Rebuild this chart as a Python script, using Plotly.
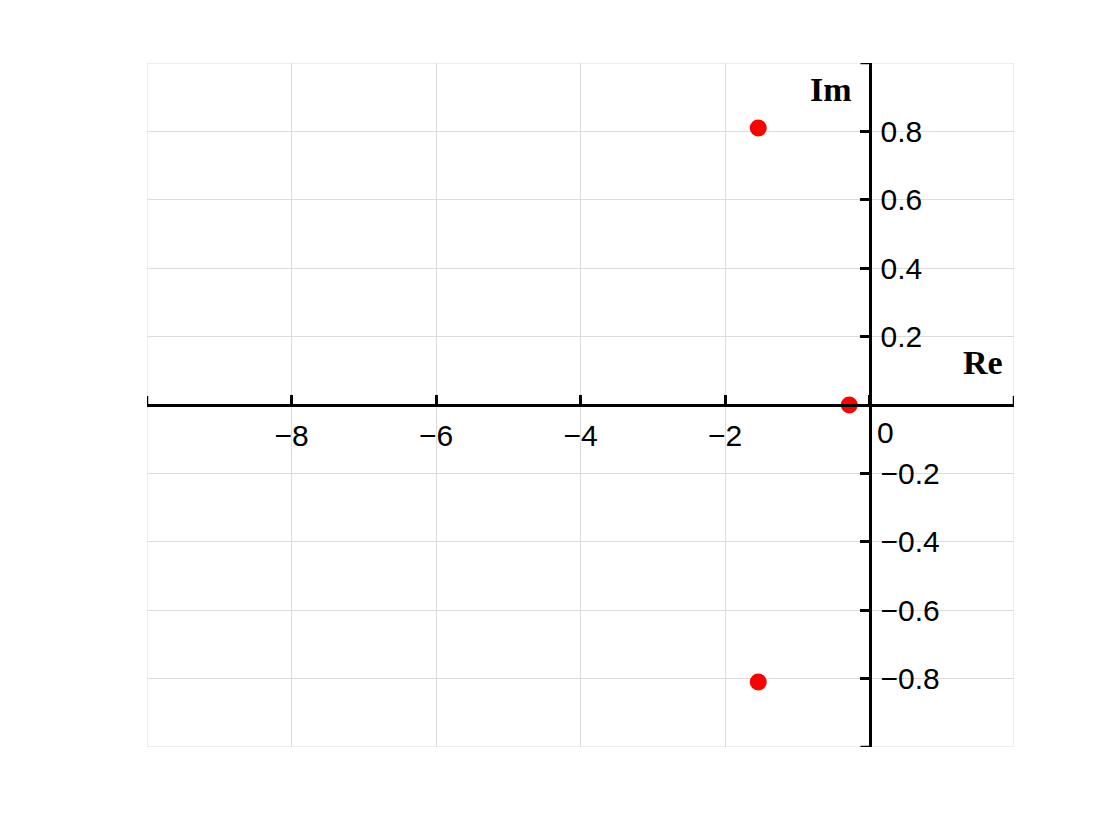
import plotly.graph_objects as go

# Data: poles in the complex plane
pole_re = [-1.54, -1.54, -0.28]
pole_im = [0.81, -0.81, 0.0]

x_ticks = [-10, -8, -6, -4, -2, 0, 2]
x_ticktext = ["", "−8", "−6", "−4", "−2", "", ""]
y_ticks = [-1.0, -0.8, -0.6, -0.4, -0.2, 0.0, 0.2, 0.4, 0.6, 0.8, 1.0]
y_ticktext = ["", "−0.8", "−0.6", "−0.4", "−0.2", "", "0.2", "0.4", "0.6", "0.8", ""]

x_min, x_max = x_ticks[0], x_ticks[-1]
y_min, y_max = y_ticks[0], y_ticks[-1]

fig = go.Figure()
fig.add_trace(go.Scatter(
    x=pole_re, y=pole_im, mode="markers",
    marker=dict(color="#ff0000", size=17, line=dict(width=0)),
    showlegend=False, hoverinfo="skip",
))

tick_font = dict(family="Liberation Sans, Arial, sans-serif", size=30, color="black")
label_font = dict(family="Liberation Serif, DejaVu Serif, serif", size=34, color="black")
grid_col = "#dcdcdc"

shapes = [
    # border grid lines at the range edges
    dict(type="rect", xref="x", yref="y", x0=x_min, x1=x_max, y0=y_min, y1=y_max,
         line=dict(color=grid_col, width=1), layer="below"),
]
# edge ticks on the x axis (pointing up)
for xv in (x_min, x_max):
    shapes.append(dict(type="line", xref="x", yref="y", ysizemode="pixel", yanchor=0,
                       x0=xv, x1=xv, y0=0, y1=9, line=dict(color="black", width=2.5)))
# edge ticks on the y axis (pointing left)
for yv in (y_min, y_max):
    shapes.append(dict(type="line", xref="x", yref="y", xsizemode="pixel", xanchor=0,
                       x0=-9, x1=0, y0=yv, y1=yv, line=dict(color="black", width=2.5)))

fig.update_layout(
    width=1120, height=840,
    margin=dict(l=139, r=114, t=55, b=101),
    paper_bgcolor="white", plot_bgcolor="white",
    xaxis=dict(
        range=[x_min, x_max], tickmode="array", tickvals=x_ticks, ticktext=x_ticktext,
        anchor="free", position=0.5, side="bottom",
        showline=True, linecolor="black", linewidth=3,
        ticks="inside", ticklen=9, tickwidth=2.5, tickcolor="black",
        showgrid=True, gridcolor=grid_col, gridwidth=1,
        zeroline=False, tickfont=tick_font, ticklabelstandoff=3,
    ),
    yaxis=dict(
        range=[y_min, y_max], tickmode="array", tickvals=y_ticks, ticktext=y_ticktext,
        anchor="free", position=10 / 12, side="right",
        showline=True, linecolor="black", linewidth=3,
        ticks="inside", ticklen=9, tickwidth=2.5, tickcolor="black",
        showgrid=True, gridcolor=grid_col, gridwidth=1,
        zeroline=False, tickfont=tick_font, ticklabelstandoff=3,
    ),
    shapes=shapes,
    annotations=[
        dict(x=0, y=0, xref="x", yref="y", text="0", showarrow=False,
             xanchor="left", yanchor="top", xshift=5, yshift=-9,
             font=tick_font),
        dict(x=0, y=y_max, xref="x", yref="y", text="<b>Im</b>", showarrow=False,
             xanchor="right", yanchor="top", xshift=-16, yshift=-6,
             font=label_font),
        dict(x=x_max, y=0, xref="x", yref="y", text="<b>Re</b>", showarrow=False,
             xanchor="right", yanchor="bottom", xshift=-9, yshift=22,
             font=label_font),
    ],
)

fig.write_html("out.html")
